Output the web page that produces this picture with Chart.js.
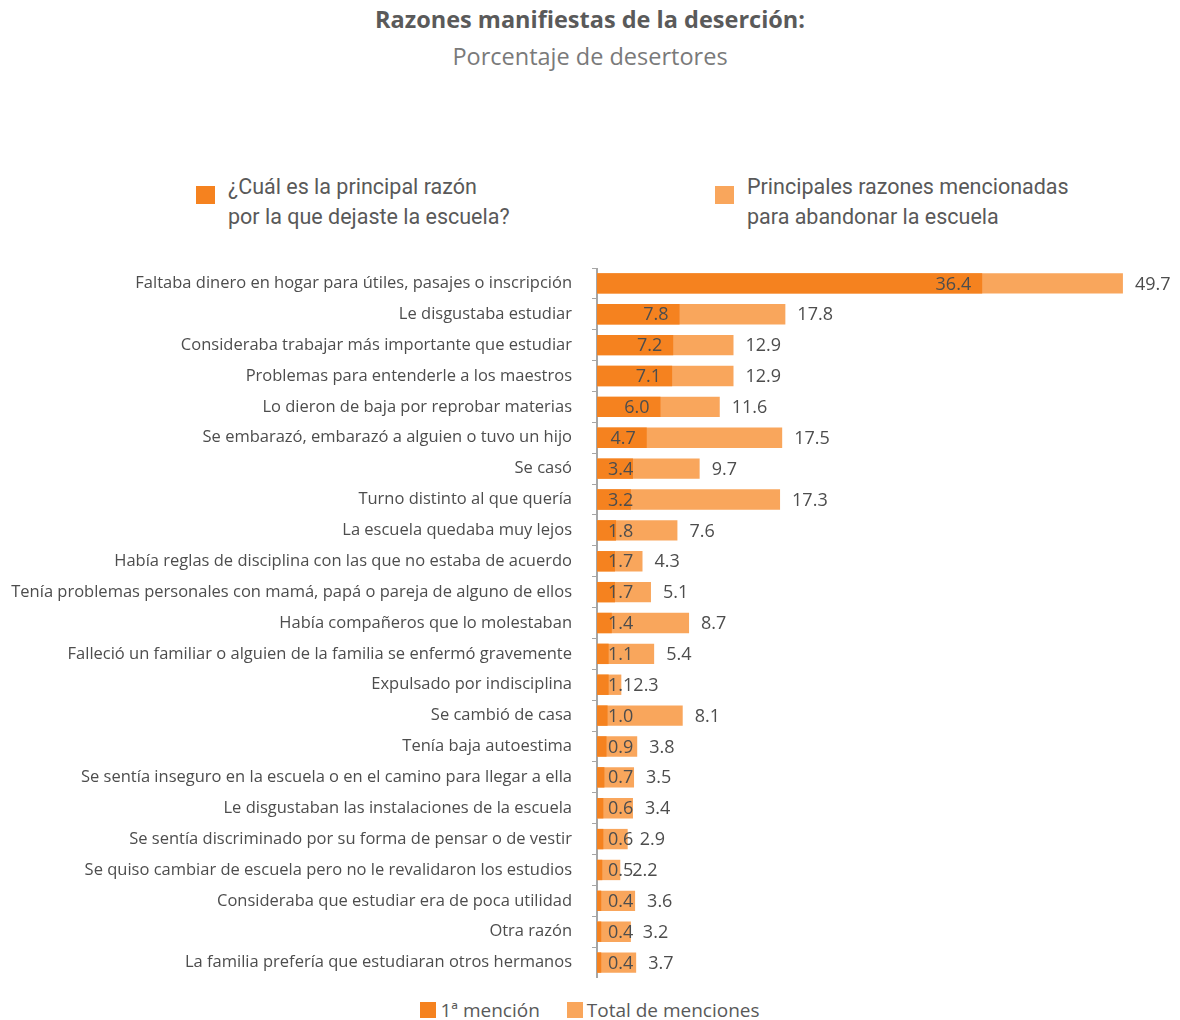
<!DOCTYPE html>
<html lang="es">
<head>
  <meta charset="utf-8">
  <title>Razones manifiestas de la deserción</title>
  <script src="https://cdn.jsdelivr.net/npm/chart.js"></script>
  <style>
    body { margin: 0; width: 1180px; height: 1020px; background: #fff; position: relative; font-family: "Open Sans", sans-serif; color: #595959; overflow: hidden; }
    .title { position: absolute; top: 3px; left: 0; width: 1180px; text-align: center; font-weight: bold; font-size: 23.5px; color: #5a5a5a; }
    .subtitle { position: absolute; top: 40px; left: 0; width: 1180px; text-align: center; font-size: 23.5px; color: #7a7a7a; }
    .head { position: absolute; top: 172px; font-family: "Liberation Sans Narrow", "Roboto", sans-serif; font-size: 21.5px; line-height: 30px; color: #595959; }
    .head .sq { position: absolute; left: -32px; top: 14px; width: 19px; height: 18px; }
    .legend { position: absolute; top: 997px; left: 0; width: 1180px; text-align: center; font-size: 19px; color: #595959; }
    .legend span.sq { display: inline-block; width: 16px; height: 16px; vertical-align: -1px; margin-right: 4px; }
    .legend span.item { margin: 0 11px; }
    .wrap { position: absolute; left: 0; top: 268px; width: 1180px; height: 710px; }
  </style>
</head>
<body>
<div class="title">Razones manifiestas de la deserción:</div>
<div class="subtitle">Porcentaje de desertores</div>

<div class="head" style="left:228px"><div class="sq" style="background:#f5821f"></div>¿Cuál es la principal razón<br>por la que dejaste la escuela?</div>
<div class="head" style="left:747px"><div class="sq" style="background:#f9a65c"></div>Principales razones mencionadas<br>para abandonar la escuela</div>

<div class="wrap"><canvas id="chart" width="1180" height="710"></canvas></div>

<div class="legend">
  <span class="item"><span class="sq" style="background:#f5821f"></span>1ª mención</span>
  <span class="item"><span class="sq" style="background:#f9a65c"></span>Total de menciones</span>
</div>

<script>
  const categories = [
    'Faltaba dinero en hogar para útiles, pasajes o inscripción',
    'Le disgustaba estudiar',
    'Consideraba trabajar más importante que estudiar',
    'Problemas para entenderle a los maestros',
    'Lo dieron de baja por reprobar materias',
    'Se embarazó, embarazó a alguien o tuvo un hijo',
    'Se casó',
    'Turno distinto al que quería',
    'La escuela quedaba muy lejos',
    'Había reglas de disciplina con las que no estaba de acuerdo',
    'Tenía problemas personales con mamá, papá o pareja de alguno de ellos',
    'Había compañeros que lo molestaban',
    'Falleció un familiar o alguien de la familia se enfermó gravemente',
    'Expulsado por indisciplina',
    'Se cambió de casa',
    'Tenía baja autoestima',
    'Se sentía inseguro en la escuela o en el camino para llegar a ella',
    'Le disgustaban las instalaciones de la escuela',
    'Se sentía discriminado por su forma de pensar o de vestir',
    'Se quiso cambiar de escuela pero no le revalidaron los estudios',
    'Consideraba que estudiar era de poca utilidad',
    'Otra razón',
    'La familia prefería que estudiaran otros hermanos'
  ];
  const primeraMencion = [36.4, 7.8, 7.2, 7.1, 6.0, 4.7, 3.4, 3.2, 1.8, 1.7, 1.7, 1.4, 1.1, 1.1, 1.0, 0.9, 0.7, 0.6, 0.6, 0.5, 0.4, 0.4, 0.4];
  const totalMenciones = [49.7, 17.8, 12.9, 12.9, 11.6, 17.5, 9.7, 17.3, 7.6, 4.3, 5.1, 8.7, 5.4, 2.3, 8.1, 3.8, 3.5, 3.4, 2.9, 2.2, 3.6, 3.2, 3.7];

  // value labels: 1st mention inside the dark bar, total to the right of the light bar
  const valueLabels = {
    id: 'valueLabels',
    afterDatasetsDraw(chart) {
      const ctx = chart.ctx;
      const x0 = chart.scales.x.getPixelForValue(0);
      const firstMeta = chart.getDatasetMeta(0);
      const totalMeta = chart.getDatasetMeta(1);
      ctx.save();
      ctx.font = '18px "Open Sans"';
      ctx.fillStyle = '#4d4d4d';
      ctx.textBaseline = 'middle';
      totalMeta.data.forEach((bar, i) => {
        ctx.textAlign = 'left';
        ctx.fillText(totalMenciones[i].toFixed(1), bar.x + 12, bar.y + 1);
        const fb = firstMeta.data[i];
        const txt = primeraMencion[i].toFixed(1);
        const w = ctx.measureText(txt).width;
        const right = Math.max(fb.x - 11, x0 + 11 + w);
        ctx.textAlign = 'right';
        ctx.fillText(txt, right, fb.y + 1);
      });
      ctx.restore();
    }
  };

  new Chart(document.getElementById('chart'), {
    type: 'bar',
    data: {
      labels: categories,
      datasets: [{
        label: '1ª mención',
        data: primeraMencion,
        backgroundColor: '#f5821f',
        barPercentage: 0.66,
        categoryPercentage: 1
      }, {
        label: 'Total de menciones',
        data: totalMenciones,
        backgroundColor: '#f9a65c',
        barPercentage: 0.66,
        categoryPercentage: 1
      }]
    },
    options: {
      indexAxis: 'y',
      responsive: false,
      animation: false,
      layout: { autoPadding: false, padding: { left: 0, right: 1, top: 0, bottom: 0 } },
      scales: {
        x: {
          display: false,
          min: 0,
          max: 55
        },
        y: {
          stacked: true,
          afterFit(scale) {
            scale.width = 597;
            scale.paddingTop = 0;
            scale.paddingBottom = 0;
          },
          border: { color: '#a6a6a6', width: 2 },
          grid: { drawOnChartArea: false, drawTicks: true, tickLength: 5, color: '#a6a6a6', offset: true },
          ticks: {
            padding: 20,
            color: '#4d4d4d',
            font: { family: 'Open Sans', size: 16.5 }
          }
        }
      },
      plugins: {
        legend: { display: false },
        tooltip: { enabled: false }
      }
    },
    plugins: [valueLabels]
  });
</script>
</body>
</html>
